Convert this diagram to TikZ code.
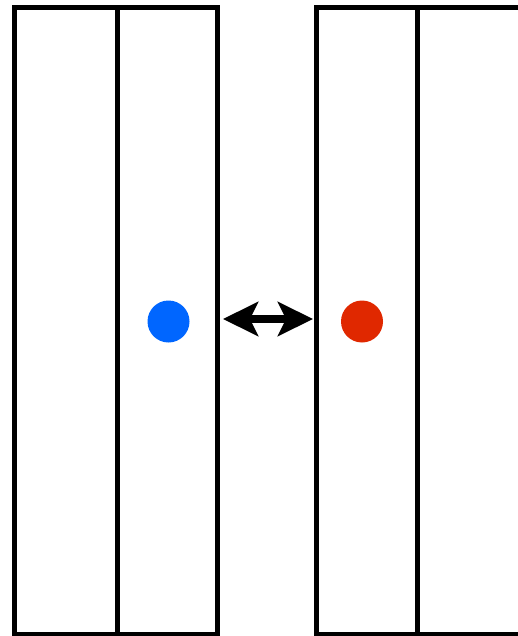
\documentclass[tikz,border=0pt]{standalone}
\usetikzlibrary{arrows.meta}
\definecolor{dotblue}{HTML}{0066FF}
\definecolor{dotred}{HTML}{E02800}
\tikzset{
  frame/.style={draw=black, line width=5pt},
  divider/.style={draw=black, line width=5pt},
  dot/.style={circle, minimum size=42pt, inner sep=0pt, draw=none},
  twoway/.style={line width=8pt, {Stealth[length=35pt,width=34pt,inset=8pt]}-{Stealth[length=35pt,width=34pt,inset=8pt]}}
}
\begin{document}
\begin{tikzpicture}[x=1pt,y=-1pt]
\useasboundingbox (0,0) rectangle (518,636);
% left panel
\draw[frame] (14.5,7.5) rectangle (217.5,634);
\draw[divider] (117,7.5) -- (117,634);
% right panel
\draw[frame] (316.5,7.5) rectangle (520.5,634);
\draw[divider] (417.5,7.5) -- (417.5,634);
% dots
\node[dot, fill=dotblue] (blue) at (168.5,321.5) {};
\node[dot, fill=dotred] (red) at (362,321.5) {};
% arrow
\coordinate (aL) at (223,319);
\coordinate (aR) at (313,319);
\draw[twoway] (aL) -- (aR);
\end{tikzpicture}
\end{document}
